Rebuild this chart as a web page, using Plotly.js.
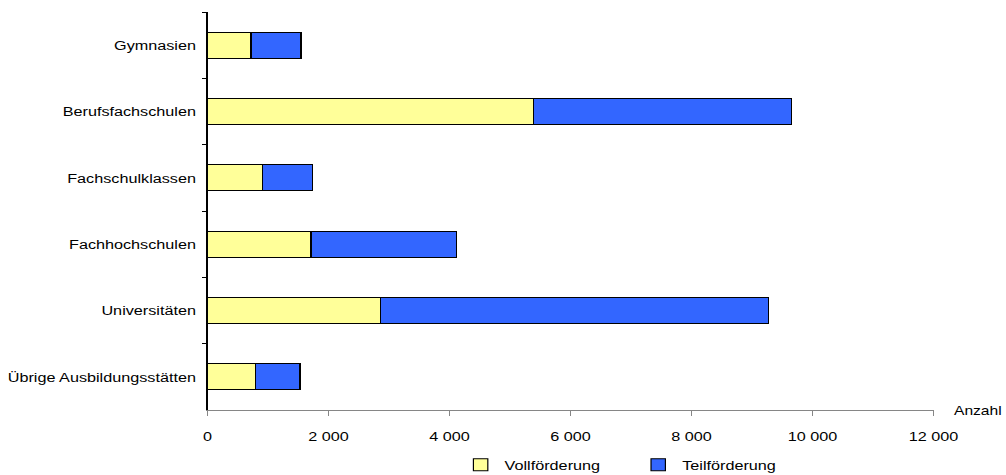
<!DOCTYPE html>
<html>
<head>
<meta charset="utf-8">
<script src="https://cdn.plot.ly/plotly-3.0.1.min.js"></script>
<style>
html, body { margin: 0; padding: 0; overflow: hidden; background: #ffffff; }
#chart { width: 838px; height: 475px; transform: scaleX(1.2); transform-origin: 0 0; }
</style>
</head>
<body>
<div id="chart"></div>
<script>
// Data (Anzahl)
const categories = ["Gymnasien", "Berufsfachschulen", "Fachschulklassen", "Fachhochschulen", "Universitäten", "Übrige Ausbildungsstätten"];
const vollfoerderung = [717, 5388, 909, 1709, 2860, 788];
const teilfoerderung = [827, 4260, 822, 2407, 6413, 739];
const xTickValues = [0, 2000, 4000, 6000, 8000, 10000, 12000];
const seriesNames = ["Vollförderung", "Teilförderung"];

const FONT = "'Liberation Sans', Arial, sans-serif";
const FS = 13.5;

const traces = [
  {
    type: "bar", orientation: "h", name: seriesNames[0],
    y: categories, x: vollfoerderung,
    marker: { color: "#FFFF99", line: { color: "#000000", width: 1 } },
    hoverinfo: "x+y"
  },
  {
    type: "bar", orientation: "h", name: seriesNames[1],
    y: categories, x: teilfoerderung,
    marker: { color: "#3366FF", line: { color: "#000000", width: 1 } },
    hoverinfo: "x+y"
  }
];

const layout = {
  width: 838, height: 475,
  margin: { l: 173, r: 60, t: 12, b: 65, pad: 0, autoexpand: false },
  barmode: "stack",
  bargap: 0.61,
  separators: ", ",
  paper_bgcolor: "#ffffff",
  plot_bgcolor: "#ffffff",
  font: { family: FONT, size: FS, color: "#000000" },
  showlegend: true,
  legend: {
    orientation: "h",
    x: 0.343, xanchor: "left",
    y: -0.138, yanchor: "middle",
    entrywidth: 103, entrywidthmode: "pixels",
    font: { family: FONT, size: FS, color: "#000000" },
    traceorder: "normal",
    bgcolor: "rgba(0,0,0,0)"
  },
  xaxis: {
    range: [0, 12000],
    tickvals: xTickValues,
    tickformat: ",d",
    showgrid: false, zeroline: false,
    showline: true, linecolor: "#868686", linewidth: 1,
    ticks: "outside", ticklen: 5, tickcolor: "#868686", tickwidth: 1,
    ticklabelstandoff: 9,
    tickfont: { family: FONT, size: FS, color: "#000000" },
    fixedrange: true
  },
  yaxis: {
    type: "category",
    categoryorder: "array", categoryarray: categories,
    autorange: "reversed",
    showgrid: false, zeroline: false,
    showline: true, linecolor: "#000000", linewidth: 1,
    ticks: "outside", tickson: "boundaries", ticklen: 4, tickcolor: "#000000", tickwidth: 1,
    ticklabelstandoff: 6,
    tickfont: { family: FONT, size: FS, color: "#000000" },
    fixedrange: true
  },
  annotations: [
    {
      text: "Anzahl", xref: "paper", yref: "paper",
      x: 1.024, y: 0, xanchor: "left", yanchor: "middle",
      showarrow: false,
      font: { family: FONT, size: 13, color: "#000000" }
    }
  ]
};

Plotly.newPlot("chart", traces, layout, { displayModeBar: false, staticPlot: true });
</script>
</body>
</html>
